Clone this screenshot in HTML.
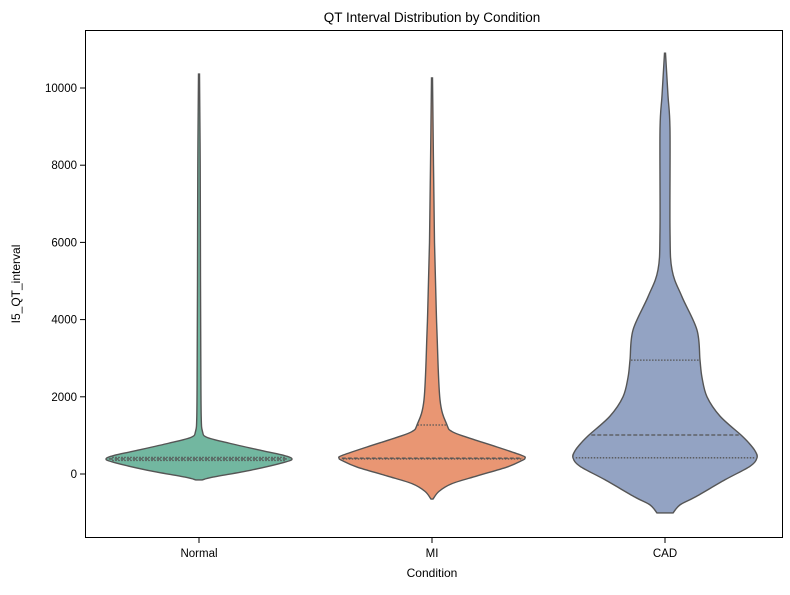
<!DOCTYPE html>
<html><head><meta charset="utf-8"><style>
body{margin:0;background:#fff;font-family:"Liberation Sans","DejaVu Sans",sans-serif}
svg text{font-family:"Liberation Sans","DejaVu Sans",sans-serif;fill:#000}
</style></head><body>
<svg id="chart" width="790" height="590">
<rect x="0" y="0" width="790" height="590" fill="#fff"/>
<text x="432" y="22" font-size="13.5" text-anchor="middle">QT Interval Distribution by Condition</text>
<text x="432" y="577" font-size="12" text-anchor="middle">Condition</text>
<text transform="translate(20,284) rotate(-90)" font-size="12" text-anchor="middle">I5_QT_interval</text>
<g id="plot"></g>
<rect x="85.5" y="30.5" width="697" height="507" fill="none" stroke="#000" stroke-width="1"/>
</svg>
<script>
const categories = ["Normal","MI","CAD"];
const colors = ["#72b7a0","#e99673","#93a3c3"];
const yTicks = [0,2000,4000,6000,8000,10000];
// violin profiles: values (QT) and half-widths of density (px)
const normalVals = [-155,-80,100,300,390,480,600,800,950,1100,1500,3000,5000,8000,10360];
const normalWid  = [3,14,52,85,93,85,64,30,8,3.5,2.2,1.8,1.5,1.2,0.5];
const miVals = [-650,-450,-250,-50,180,350,410,480,700,950,1100,1270,1920,3650,4500,6000,8000,10260];
const miWid  = [1,7,20,45,75,90,93,90,65,35,20,15,8,5,4,2.5,1.5,0.5];
const cadVals = [-1010,-800,-600,-150,200,420,600,800,1010,1500,2000,2500,2950,3730,4590,5290,6320,8900,9800,10900];
const cadWid  = [8,15,30,60,85,92,90,84,76,55,42,37,35,32,17,7,5,5,3,0.5];
const quartiles = [[350,390,430],[390,410,1270],[420,1010,2950]];

const plot = document.getElementById('plot');
const NS = "http://www.w3.org/2000/svg";
const y = v => 474 - v*77.2/2000;
const x = i => 199 + i*233;

yTicks.forEach(t=>{
  const l=document.createElementNS(NS,'line');
  l.setAttribute('x1',80);l.setAttribute('x2',85);l.setAttribute('y1',y(t));l.setAttribute('y2',y(t));l.setAttribute('stroke','#000');
  
  
  plot.appendChild(l);
  const tx=document.createElementNS(NS,'text');
  tx.setAttribute('x',77);tx.setAttribute('y',y(t)+4);tx.setAttribute('font-size','11.5');tx.setAttribute('text-anchor','end');
  tx.textContent=t;
  
  
  plot.appendChild(tx);
});
categories.forEach((c,i)=>{
  const l=document.createElementNS(NS,'line');
  l.setAttribute('x1',x(i));l.setAttribute('x2',x(i));l.setAttribute('y1',538);l.setAttribute('y2',543);l.setAttribute('stroke','#000');
  
  
  plot.appendChild(l);
  const tx=document.createElementNS(NS,'text');
  tx.setAttribute('x',x(i));tx.setAttribute('y',557);tx.setAttribute('font-size','11.5');tx.setAttribute('text-anchor','middle');
  tx.textContent=c;
  
  
  plot.appendChild(tx);
});

function smooth(pts){
  let d='M'+pts[0][0]+','+pts[0][1];
  for(let k=0;k<pts.length-1;k++){
    const p0=pts[Math.max(0,k-1)],p1=pts[k],p2=pts[k+1],p3=pts[Math.min(pts.length-1,k+2)];
    const c1=[p1[0]+(p2[0]-p0[0])/6,p1[1]+(p2[1]-p0[1])/6];
    const c2=[p2[0]-(p3[0]-p1[0])/6,p2[1]-(p3[1]-p1[1])/6];
    d+=' C'+c1[0]+','+c1[1]+' '+c2[0]+','+c2[1]+' '+p2[0]+','+p2[1];
  }
  return d;
}
function widthAt(vals,wid,v){
  for(let k=0;k<vals.length-1;k++){
    if(v>=vals[k]&&v<=vals[k+1]){const t=(v-vals[k])/(vals[k+1]-vals[k]);return wid[k]+t*(wid[k+1]-wid[k]);}
  }
  return 0;
}
const profiles=[[normalVals,normalWid],[miVals,miWid],[cadVals,cadWid]];
profiles.forEach(([vals,wid],i)=>{
  const cx=x(i);
  const right=vals.map((v,k)=>[cx+wid[k],y(v)]);
  const left=vals.map((v,k)=>[cx-wid[k],y(v)]).reverse();
  const d=smooth(right)+' L'+left[0][0]+','+left[0][1]+smooth(left).replace(/^M[^ ]+/,'')+' Z';
  const p=document.createElementNS(NS,'path');
  p.setAttribute('d',d);p.setAttribute('fill',colors[i]);p.setAttribute('stroke','#555');p.setAttribute('stroke-width','1.4');
  
  
  plot.appendChild(p);
  quartiles[i].forEach((q,j)=>{
    const w=widthAt(vals,wid,q)*0.97;
    const l=document.createElementNS(NS,'line');
    l.setAttribute('x1',cx-w);l.setAttribute('x2',cx+w);l.setAttribute('y1',y(q));l.setAttribute('y2',y(q));
    l.setAttribute('stroke','#555');l.setAttribute('stroke-width','1.3');
    l.setAttribute('stroke-dasharray',j===1?'4,2':'1.5,1.5');
    
    
    plot.appendChild(l);
  });
});
</script>
</body></html>
